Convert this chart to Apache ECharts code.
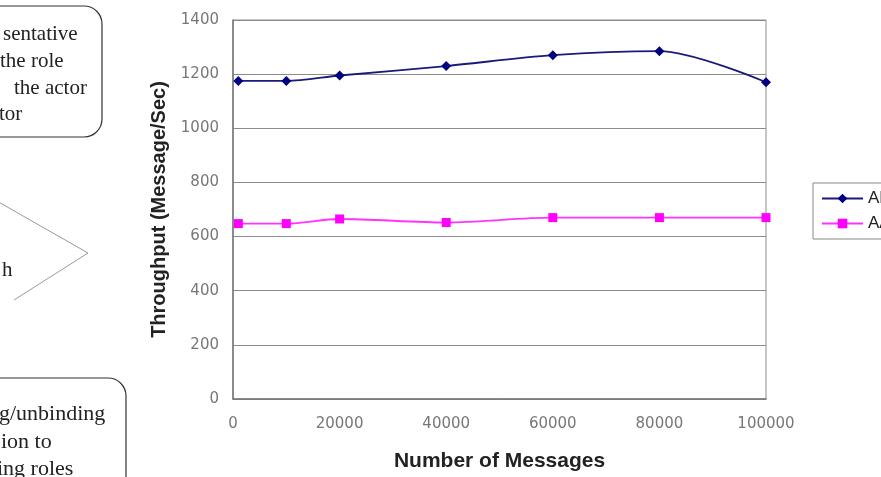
<!DOCTYPE html>
<html><head><meta charset="utf-8">
<script src="https://cdn.jsdelivr.net/npm/echarts@6/dist/echarts.min.js"></script>
<style>html,body{margin:0;padding:0;background:#fff}#c{width:881px;height:477px}</style>
</head><body><div id="c"></div>
<script>
const messages = [1000, 10000, 20000, 40000, 60000, 80000, 100000];
const apValues = [1175, 1175, 1195, 1230, 1270, 1285, 1170];
const aaValues = [648, 648, 665, 652, 670, 670, 670];
const seriesNames = ['AP', 'AA'];
const xTicks = [0, 20000, 40000, 60000, 80000, 100000];
const yTicks = [0, 200, 400, 600, 800, 1000, 1200, 1400];

const chart = echarts.init(document.getElementById('c'));
const serif = '"Liberation Serif", "Times New Roman", serif';
const txt = (x, y, s, fs) => ({type: 'text', left: x, top: y, style: {text: s, font: (fs || 21) + 'px ' + serif, fill: '#222'}});
chart.setOption({
  animation: false,
  grid: {left: 233, right: 115, top: 20, bottom: 77, show: true, borderColor: '#8c8c8c', borderWidth: 1},
  legend: {
    orient: 'vertical', left: 813, top: 183, padding: [7, 5, 7, 8], itemGap: 8,
    itemWidth: 41, itemHeight: 12, borderColor: '#888', borderWidth: 1,
    textStyle: {fontFamily: '"Liberation Sans", Arial, sans-serif', fontSize: 17, color: '#222'},
    data: seriesNames
  },
  xAxis: {
    type: 'value', min: xTicks[0], max: xTicks[xTicks.length - 1], interval: xTicks[1] - xTicks[0],
    name: 'Number of Messages', nameLocation: 'middle', nameGap: 52,
    nameTextStyle: {fontFamily: '"Liberation Sans", Arial, sans-serif', fontWeight: 'bold', fontSize: 21, color: '#222'},
    axisLine: {lineStyle: {color: '#777', width: 1.5}}, axisTick: {show: false},
    splitLine: {show: false},
    axisLabel: {fontFamily: '"DejaVu Sans", sans-serif', fontSize: 15, color: '#777', margin: 18,
      formatter: v => String(v)}
  },
  yAxis: {
    type: 'value', min: yTicks[0], max: yTicks[yTicks.length - 1], interval: yTicks[1] - yTicks[0],
    name: 'Throughput (Message/Sec)', nameLocation: 'middle', nameGap: 60,
    nameTextStyle: {fontFamily: '"Liberation Sans", Arial, sans-serif', fontWeight: 'bold', fontSize: 20, color: '#222'},
    axisLine: {show: true, lineStyle: {color: '#777', width: 1.5}}, axisTick: {show: false},
    splitLine: {lineStyle: {color: '#8c8c8c', width: 1.2}},
    axisLabel: {fontFamily: '"DejaVu Sans", sans-serif', fontSize: 15, color: '#777', margin: 14,
      formatter: v => String(v)}
  },
  series: [
    {name: seriesNames[0], type: 'line', smooth: 0.3, data: messages.map((m, i) => [m, apValues[i]]),
     symbol: 'diamond', symbolSize: 10, lineStyle: {color: '#1a1a7a', width: 1.8},
     itemStyle: {color: '#000080'}},
    {name: seriesNames[1], type: 'line', smooth: 0.3, data: messages.map((m, i) => [m, aaValues[i]]),
     symbol: 'rect', symbolSize: 9, lineStyle: {color: '#ff33ff', width: 1.8},
     itemStyle: {color: '#ff00ff'}}
  ],
  graphic: [
    {type: 'rect', shape: {x: -30, y: 6, width: 132, height: 131, r: 18}, style: {fill: 'none', stroke: '#333', lineWidth: 1.2}},
    txt(3, 24, 'sentative'),
    txt(0, 51, 'the role'),
    txt(14, 78, 'the actor'),
    txt(-1, 104, 'tor'),
    {type: 'polyline', shape: {points: [[-5, 200], [88, 253], [14, 300]]}, style: {stroke: '#999', lineWidth: 1, fill: 'none'}},
    txt(2, 260, 'h'),
    {type: 'rect', shape: {x: -30, y: 378, width: 156, height: 130, r: 18}, style: {fill: 'none', stroke: '#333', lineWidth: 1.2}},
    txt(-1, 403, 'g/unbinding', 22),
    txt(1, 431, 'ion to', 22),
    txt(-3, 458, 'ing roles', 22)
  ]
});
</script></body></html>
